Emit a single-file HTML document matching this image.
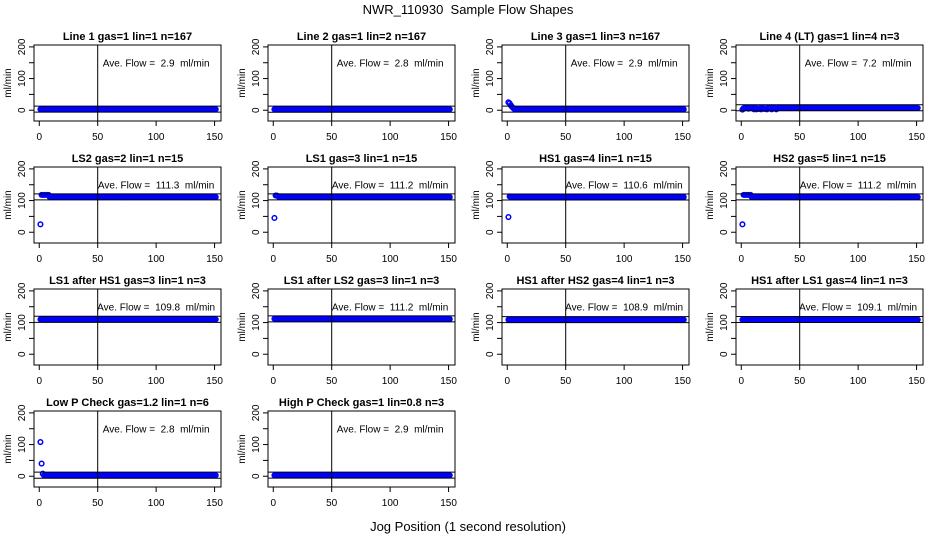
<!DOCTYPE html>
<html><head><meta charset="utf-8"><style>
body{margin:0;background:#fff}
svg{display:block;font-family:"Liberation Sans",sans-serif}
text{white-space:pre}
</style></head><body>
<svg id="c" width="936" height="540" viewBox="0 0 936 540">
<rect width="936" height="540" fill="#fff"/>
<text x="468" y="14" text-anchor="middle" font-size="13">NWR_110930  Sample Flow Shapes</text>
<text x="468" y="531" text-anchor="middle" font-size="13">Jog Position (1 second resolution)</text>
</svg>
<script>
const titles=["Line 1 gas=1 lin=1 n=167","Line 2 gas=1 lin=2 n=167","Line 3 gas=1 lin=3 n=167","Line 4 (LT) gas=1 lin=4 n=3",
"LS2 gas=2 lin=1 n=15","LS1 gas=3 lin=1 n=15","HS1 gas=4 lin=1 n=15","HS2 gas=5 lin=1 n=15",
"LS1 after HS1 gas=3 lin=1 n=3","LS1 after LS2 gas=3 lin=1 n=3","HS1 after HS2 gas=4 lin=1 n=3","HS1 after LS1 gas=4 lin=1 n=3",
"Low P Check gas=1.2 lin=1 n=6","High P Check gas=1 lin=0.8 n=3"];
const means=[2.9,2.8,2.9,7.2,111.3,111.2,110.6,111.2,109.8,111.2,108.9,109.1,2.8,2.9];
const leading=[[3],[3],[25,22,16,11,7,4],[2,6,8,7,9,5,6,7,8,7,3,8,3,6,4,7,3,8,7,4,6,3,8,7,7,3,8,6,7,3],
[25,118,118,118,118,118,118,118],[45,116,116,114],[48,113,112],[25,118,118,118,118,118,118,118],
[110],[112],[109],[109],[108,40,8],[3]];
const steady=[3,3,3,7,111,111,111,111,110,111,109,109,3,3];
const xTicks=[0,50,100,150];
const yTicks=[0,50,100,150,200];
const yLabels=["0","","100","","200"];
const nPts=151;

const svg=document.getElementById('c');
const NS="http://www.w3.org/2000/svg";
function mk(tag,a,p){const e=document.createElementNS(NS,tag);for(const k in a)e.setAttribute(k,a[k]);(p||svg).appendChild(e);return e;}
const W=187,H=76,X0=[34,268,502,736],Y0=[45,167,289,411];
const xmin=-4.5,xmax=155.5,ymin=-34,ymax=206;
titles.forEach((t,i)=>{
  const L=X0[i%4],T=Y0[Math.floor(i/4)];
  const sx=v=>L+(v-xmin)/(xmax-xmin)*W;
  const sy=v=>T+H-(v-ymin)/(ymax-ymin)*H;
  const g=mk('g',{});
  
  
  const tt=mk('text',{x:L+W/2,y:T-5,'text-anchor':'middle','font-size':11,'font-weight':'bold'},g);tt.textContent=t;
  
  
  const cp='cp'+i;
  const cd=mk('clipPath',{id:cp},g);mk('rect',{x:L,y:T,width:W,height:H},cd);
  const pts=mk('g',{'clip-path':`url(#${cp})`,fill:'none',stroke:'#0000ff','stroke-width':1.5},g);
  
  
  const lead=leading[i];
  for(let k=0;k<nPts;k++){
    const v=k<lead.length?lead[k]:steady[i];
    const c=mk('circle',{cx:sx(k+1),cy:sy(v),r:2.3},pts);
    
    
  }
  const lines=mk('g',{stroke:'#000','stroke-width':1},g);
  
  
  mk('line',{x1:sx(50),x2:sx(50),y1:T,y2:T+H},lines);
  mk('line',{x1:L,x2:L+W,y1:sy(means[i]+10),y2:sy(means[i]+10)},lines);
  mk('line',{x1:L,x2:L+W,y1:sy(means[i]-9),y2:sy(means[i]-9)},lines);
  const at=mk('text',{x:sx(100),y:sy(150)+4,'text-anchor':'middle','font-size':10},g);
  at.textContent='Ave. Flow =  '+means[i].toFixed(1)+'  ml/min';
  
  
  const box=mk('rect',{x:L,y:T,width:W,height:H,fill:'none',stroke:'#000','stroke-width':1},g);
  
  
  const xa=mk('g',{stroke:'#000'},g);
  
  
  xTicks.forEach(v=>{mk('line',{x1:sx(v),x2:sx(v),y1:T+H,y2:T+H+5},xa);
    const tx=mk('text',{x:sx(v),y:T+H+19,'text-anchor':'middle','font-size':10,stroke:'none'},xa);tx.textContent=v;});
  const ya=mk('g',{stroke:'#000'},g);
  
  
  yTicks.forEach((v,j)=>{mk('line',{x1:L-5,x2:L,y1:sy(v),y2:sy(v)},ya);
    if(yLabels[j]){const ty=mk('text',{x:0,y:0,'text-anchor':'middle','font-size':10,stroke:'none',transform:`translate(${L-9},${sy(v)}) rotate(-90)`},ya);ty.textContent=yLabels[j];}});
  const yl=mk('text',{x:0,y:0,'text-anchor':'middle','font-size':10,transform:`translate(${L-23},${T+H/2}) rotate(-90)`},g);
  yl.textContent='ml/min';
  
  
});
</script>
</body></html>
